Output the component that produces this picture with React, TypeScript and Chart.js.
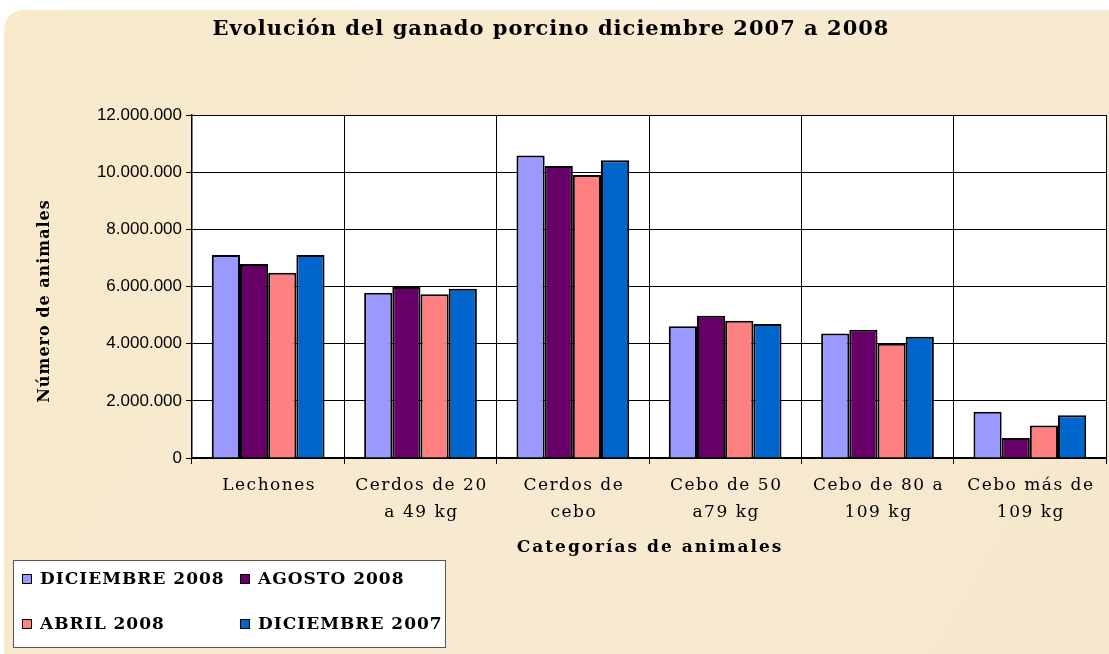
import React, { useEffect, useRef } from "react";
import { Chart, registerables } from "chart.js";

Chart.register(...registerables);

const chartTitle = "Evolución del ganado porcino diciembre 2007 a 2008";
const yAxisTitle = "Número de animales";
const xAxisTitle = "Categorías de animales";

const categories: string[][] = [
  ["Lechones"],
  ["Cerdos de 20", "a 49 kg"],
  ["Cerdos de", "cebo"],
  ["Cebo de 50", "a79 kg"],
  ["Cebo de 80 a", "109 kg"],
  ["Cebo más de", "109 kg"],
];

const seriesNames = ["DICIEMBRE 2008", "AGOSTO 2008", "ABRIL 2008", "DICIEMBRE 2007"];
const seriesColors = ["#9999FF", "#660066", "#FF8080", "#0066CC"];

const diciembre2008 = [7100000, 5780000, 10580000, 4610000, 4360000, 1620000];
const agosto2008 = [6790000, 5980000, 10220000, 4980000, 4490000, 700000];
const abril2008 = [6480000, 5730000, 9900000, 4800000, 4000000, 1140000];
const diciembre2007 = [7100000, 5920000, 10420000, 4690000, 4240000, 1500000];

const yMin = 0;
const yMax = 12000000;
const yStep = 2000000;

const W = 1109;
const H = 654;

function roundRect(ctx: CanvasRenderingContext2D, x: number, y: number, w: number, h: number, r: number) {
  ctx.beginPath();
  ctx.moveTo(x + r, y);
  ctx.lineTo(x + w - r, y);
  ctx.quadraticCurveTo(x + w, y, x + w, y + r);
  ctx.lineTo(x + w, y + h - r);
  ctx.quadraticCurveTo(x + w, y + h, x + w - r, y + h);
  ctx.lineTo(x + r, y + h);
  ctx.quadraticCurveTo(x, y + h, x, y + h - r);
  ctx.lineTo(x, y + r);
  ctx.quadraticCurveTo(x, y, x + r, y);
  ctx.closePath();
}

const decorPlugin = {
  id: "decor",
  beforeDraw(chart: any) {
    const ctx: CanvasRenderingContext2D = chart.ctx;
    const ca = chart.chartArea;
    ctx.save();
    ctx.fillStyle = "#ffffff";
    ctx.fillRect(0, 0, W, H);
    roundRect(ctx, 4, 10, W + 30, H + 30, 22);
    const g = ctx.createLinearGradient(0, 0, W, H);
    g.addColorStop(0, "#F8EACB");
    g.addColorStop(0.5, "#F7EAD0");
    g.addColorStop(1, "#F5E8CD");
    ctx.fillStyle = g;
    ctx.fill();
    ctx.fillStyle = "#ffffff";
    ctx.fillRect(ca.left, ca.top, ca.right - ca.left, ca.bottom - ca.top);
    ctx.restore();
  },
  afterDraw(chart: any) {
    const ctx: CanvasRenderingContext2D = chart.ctx;
    const xs = chart.scales.x;
    ctx.save();
    ctx.fillStyle = "#000000";
    ctx.textAlign = "center";
    ctx.textBaseline = "middle";

    // Title
    (ctx as any).letterSpacing = "1px";
    ctx.font = "bold 21px 'DejaVu Serif'";
    ctx.fillText(chartTitle, 551, 30);

    // X tick labels
    (ctx as any).letterSpacing = "1.5px";
    ctx.font = "17px 'DejaVu Serif'";
    categories.forEach((lines, i) => {
      const px = xs.getPixelForTick(i);
      lines.forEach((ln, j) => {
        ctx.fillText(ln, px + 1, 486 + j * 27);
      });
    });

    // X axis title
    (ctx as any).letterSpacing = "2px";
    ctx.font = "bold 17px 'DejaVu Serif'";
    ctx.fillText(xAxisTitle, 650, 548);

    // Y axis title
    (ctx as any).letterSpacing = "1px";
    ctx.font = "bold 16px 'DejaVu Serif'";
    ctx.translate(45, 301);
    ctx.rotate(-Math.PI / 2);
    ctx.fillText(yAxisTitle, 0, 0);
    ctx.setTransform(1, 0, 0, 1, 0, 0);

    // Legend
    (ctx as any).letterSpacing = "1px";
    ctx.fillStyle = "#ffffff";
    ctx.fillRect(13.5, 560.5, 432, 87);
    ctx.strokeStyle = "#555555";
    ctx.lineWidth = 1;
    ctx.strokeRect(13.5, 560.5, 432, 87);
    const pos = [
      [22, 579],
      [240, 579],
      [22, 624],
      [240, 624],
    ];
    ctx.font = "bold 17px 'DejaVu Serif'";
    ctx.textAlign = "left";
    chart.data.datasets.forEach((ds: any, i: number) => {
      const [lx, ly] = pos[i];
      ctx.fillStyle = ds.backgroundColor;
      ctx.fillRect(lx + 0.5, ly - 4.5, 9, 9);
      ctx.strokeStyle = "#000000";
      ctx.lineWidth = 1;
      ctx.strokeRect(lx + 0.5, ly - 4.5, 9, 9);
      ctx.fillStyle = "#000000";
      ctx.fillText(ds.label, lx + 18, ly + 1);
    });
    ctx.restore();
  },
};

export default function App() {
  const ref = useRef<HTMLCanvasElement | null>(null);
  useEffect(() => {
    if (!ref.current) return;
    const values = [diciembre2008, agosto2008, abril2008, diciembre2007];
    const chart = new Chart(ref.current, {
      type: "bar",
      data: {
        labels: categories,
        datasets: values.map((v, i) => ({
          label: seriesNames[i],
          data: v,
          backgroundColor: seriesColors[i],
          borderColor: "#000000",
          borderWidth: 2,
          categoryPercentage: 0.74,
          barPercentage: 1,
        })),
      },
      options: {
        responsive: false,
        animation: false,
        devicePixelRatio: 1,
        layout: { padding: { left: 0, top: 115, right: 3, bottom: 0 } },
        plugins: {
          legend: { display: false },
          title: { display: false },
          tooltip: { enabled: false },
        },
        scales: {
          x: {
            offset: true,
            grid: {
              offset: true,
              color: "#000000",
              lineWidth: 1,
              drawTicks: true,
              tickLength: 6,
            },
            border: { display: true, color: "#000000", width: 2 },
            ticks: { display: false },
            afterFit: (s: any) => {
              s.height = 196;
            },
          },
          y: {
            min: yMin,
            max: yMax,
            grid: { color: "#000000", lineWidth: 1, drawTicks: true, tickLength: 6 },
            border: { display: true, color: "#000000", width: 1.5 },
            ticks: {
              stepSize: yStep,
              padding: 4,
              color: "#000000",
              font: { family: "'Liberation Sans', Arial", size: 17 },
              callback: (v: any) => Number(v).toLocaleString("de-DE"),
            },
            afterFit: (s: any) => {
              s.width = 192;
            },
          },
        },
      },
      plugins: [decorPlugin],
    } as any);
    return () => chart.destroy();
  }, []);
  return (
    <div style={{ position: "absolute", left: 0, top: 0, width: W, height: H }}>
      <canvas ref={ref} width={W} height={H} style={{ display: "block" }} />
    </div>
  );
}
